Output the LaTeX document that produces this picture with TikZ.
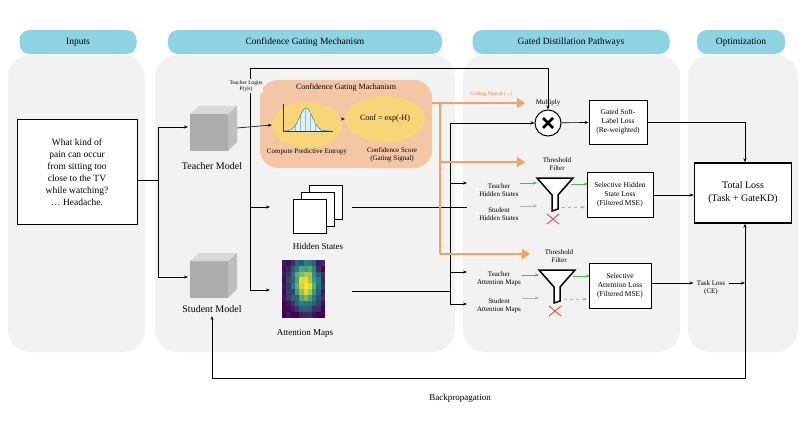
\documentclass[tikz,border=0pt]{standalone}
\usepackage{fontspec}
\setmainfont{Liberation Serif}
\usepackage{tikz}
\usetikzlibrary{arrows.meta}
\usetikzlibrary{shapes.geometric}
\usetikzlibrary{positioning}
\definecolor{panelgray}{HTML}{F2F2F2}
\definecolor{headcyan}{HTML}{8DD3E3}
\definecolor{gateorange}{HTML}{F4A261}
\definecolor{boxpeach}{HTML}{F5C6A5}
\definecolor{ellyellow}{HTML}{F9D57A}
\definecolor{vpurple}{HTML}{440154}
\definecolor{vteal}{HTML}{21918C}
\definecolor{vyellow}{HTML}{FDE725}
\tikzstyle{arrow} = [semithick,-{Stealth[length=4pt]}]
\tikzstyle{line} = [semithick]
\tikzstyle{panel} = [fill=panelgray, rounded corners=22pt]
\tikzstyle{head} = [fill=headcyan, rounded corners=10pt, minimum height=24pt, font=\fontsize{9.5}{11}\selectfont]
\tikzstyle{lossbox} = [draw=black, semithick, fill=white, align=center, font=\fontsize{7.5}{9}\selectfont]
\tikzstyle{lbl} = [align=center, font=\fontsize{7}{8}\selectfont]
\tikzstyle{gate} = [gateorange, line width=2.5pt, -{Triangle[length=8pt,width=10pt]}]

\begin{document}
\begin{tikzpicture}[x=1pt, y=-1pt]
		\useasboundingbox (0,0) rectangle (808,425);
		% panels and headers
		\fill [panel] (8,55) rectangle (145,352);
		\fill [panel] (155,55) rectangle (455,352);
		\fill [panel] (463,55) rectangle (680,352);
		\fill [panel] (688,55) rectangle (798,352);
		\node (hin) [head, minimum width=117pt] at (78,42) {Inputs};
		\node (hcg) [head, minimum width=274pt] at (305,42) {Confidence Gating Mechanism};
		\node (hgd) [head, minimum width=197pt] at (571,42) {Gated Distillation Pathways};
		\node (hop) [head, minimum width=88pt] at (741,42) {Optimization};
		% input
		\node (input) [draw=black, semithick, fill=white, minimum width=120pt, minimum height=105pt, align=center, font=\fontsize{9.5}{12}\selectfont] at (77,172) {What kind of\\pain can occur\\from sitting too\\close to the TV\\while watching?\\\dots\ Headache.};
		% cubes
		\foreach \nm/\cy in {teacher/130, student/277} {
			\fill [gray!65] (190,\cy-16) rectangle (228,\cy+21);
			\fill [gray!30] (190,\cy-16) -- (199,\cy-24) -- (237,\cy-24) -- (228,\cy-16) -- cycle;
			\fill [gray!50] (228,\cy-16) -- (237,\cy-24) -- (237,\cy+12) -- (228,\cy+21) -- cycle;
			\coordinate (\nm) at (212,\cy);
		}
		\node (tname) [font=\fontsize{10}{11}\selectfont] at (212,166) {Teacher Model};
		\node (sname) [font=\fontsize{10}{11}\selectfont] at (212,309) {Student Model};
		\coordinate (split) at (158,180);
		\draw [line] (input.east |- split) -- (split);
		\draw [arrow] (split) |- (188,127);
		\draw [arrow] (split) |- (188,277);
		% confidence gating box
		\fill [boxpeach, rounded corners=18pt] (260,80) rectangle (432,168);
		\node (cgtitle) [font=\fontsize{8}{9}\selectfont] at (346,88) {Confidence Gating Machanism};
		\node (entropy) [ellipse, fill=ellyellow, minimum width=70pt, minimum height=46pt, inner sep=0pt] at (307,125) {};
		\node (conf) [ellipse, fill=ellyellow, minimum width=70pt, minimum height=46pt, font=\fontsize{8}{9}\selectfont] at (385,119) {Conf = exp(-H)};
		\draw [black!80] (283,104) -- (283,131) -- (333,131);
		\fill [cyan!15, domain=285:332, samples=30] plot (\x,{131-23*exp(-((\x-306)/9)^2)}) -- (332,131) -- (285,131) -- cycle;
		\draw [teal, domain=285:332, samples=40] plot (\x,{131-23*exp(-((\x-306)/9)^2)});
		\foreach \vx in {295,300,...,320} \draw [gray!60, very thin] (\vx,131) -- (\vx,{131-23*exp(-((\vx-306)/9)^2)});
		\draw [arrow] (343,119) -- (conf.west);
		\node (celbl) [lbl] at (307,152) {Compute Predictive Entropy};
		\node (cslbl) [lbl] at (392,155) {Confidence Score\\(Gating Signal)};
		% logits and branches
		\draw [arrow] (237,128) -- (entropy.west);
		\draw [line] (250,68) -- (250,290);
		\node (logits) [lbl, fill=panelgray, inner sep=1pt, font=\fontsize{5.5}{6.5}\selectfont] at (246,86) {Teacher Logits\\P(y|s)};
		% hidden states
		\foreach \dd in {2,1,0} \draw [line, fill=white] (293+\dd*8,199-\dd*7) rectangle (326+\dd*8,233-\dd*7);
		\node (hidden) [font=\fontsize{9}{10}\selectfont] at (318,246) {Hidden States};
		\draw [arrow] (250,207) -- (270,207);
		% attention map
		\pgfmathsetseed{11}
		\foreach \i in {0,...,9} \foreach \j in {0,...,9} {
			\pgfmathsetmacro{\vv}{max(0,min(1,exp(-(((\i-5)/3)^2+((\j-3.5)/3.8)^2))*1.0+0.1*rand))}
			\pgfmathsetmacro{\pa}{\vv<0.5 ? 200*\vv : 0}
			\pgfmathsetmacro{\pb}{\vv<0.5 ? 0 : 200*(\vv-0.5)}
			\ifdim \vv pt<0.5pt
				\fill [vteal!\pa!vpurple] (282+\i*4.3,260+\j*5.8) rectangle +(4.4,5.9);
			\else
				\fill [vyellow!\pb!vteal] (282+\i*4.3,260+\j*5.8) rectangle +(4.4,5.9);
			\fi
		}
		\node (attn) [font=\fontsize{9}{10}\selectfont] at (305,333) {Attention Maps};
		\draw [arrow] (250,290) -- (270,290);
		% distribution lines
		\draw [line] (352,207) -- (467,207);
		\draw [line] (352,291) -- (450,291);
		\draw [line] (450,123) -- (450,304);
		\draw [arrow] (450,183) -- (467,183);
		\draw [arrow] (450,272) -- (467,272);
		\draw [arrow] (450,304) -- (467,304);
		% gating signal
		\draw [gateorange, line width=2.5pt] (432,103) -- (440,103) -- (440,254);
		\draw [gate] (432,103) -- (525,103);
		\draw [gate] (440,162) -- (525,162);
		\draw [gate] (440,254) -- (530,254);
		\node (gsig) [text=gateorange, font=\bfseries\fontsize{5.5}{6}\selectfont] at (491,94) {Gating Signal ($\alpha$)};
		% multiply
		\node (mult) [circle, draw=black, line width=1pt, fill=white, minimum size=26pt, inner sep=0pt] at (548,123) {};
		\draw [line width=2.5pt] ([shift={(-5,-5)}]mult.center) -- ([shift={(5,5)}]mult.center);
		\draw [line width=2.5pt] ([shift={(-5,5)}]mult.center) -- ([shift={(5,-5)}]mult.center);
		\node (multl) [lbl] at (548,103) {Multiply};
		\draw [arrow] (450,123) -- (mult.west);
		\draw [arrow] (250,68) -| (mult.north);
		\node (soft) [lossbox, minimum width=58pt, minimum height=44pt] at (618,122) {Gated Soft-\\Label Loss\\(Re-weighted)};
		\draw [arrow] (mult) -- (soft);
		% filters
		\foreach \nm/\fx/\fy in {fh/555/178, fa/557/270} {
			\draw [line width=1.5pt, fill=white] (\fx-18,\fy) -- (\fx+18,\fy) -- (\fx+3,\fy+17) -- (\fx+3,\fy+31) -- (\fx-3,\fy+33) -- (\fx-3,\fy+17) -- cycle;
			\node (\nm l) [lbl] at (\fx+2,\fy-14) {Threshold\\Filter};
			\draw [red!80, thick] (\fx-8,\fy+36) -- (\fx+4,\fy+46) (\fx-8,\fy+46) -- (\fx+4,\fy+36);
			\draw [arrow, green!60!black!70, thin] (\fx-35,\fy+5) -- (\fx-18,\fy+5);
			\draw [arrow, green!60!black!70, thin] (\fx+16,\fy+6) -- (\fx+33,\fy+6);
			\draw [arrow, gray!60, thin] (\fx-35,\fy+28) -- (\fx-18,\fy+28);
			\draw [arrow, gray!60, thin, dashed] (\fx+7,\fy+29) -- (\fx+30,\fy+29);
		}
		\node (thl) [lbl] at (499,190) {Teacher\\Hidden States};
		\node (shl) [lbl] at (499,214) {Student\\Hidden States};
		\node (tal) [lbl] at (499,279) {Teacher\\Attention Maps};
		\node (sal) [lbl] at (499,306) {Student\\Attention Maps};
		\node (hsl) [lossbox, minimum width=66pt, minimum height=45pt] at (620,195) {Selective Hidden\\State Loss\\(Filtered MSE)};
		\node (atl) [lossbox, minimum width=62pt, minimum height=45pt] at (620,286) {Selective\\Attention Loss\\(Filtered MSE)};
		% optimization
		\node (total) [draw=black, line width=1.5pt, fill=white, minimum width=97pt, minimum height=60pt, align=center, font=\fontsize{10}{13}\selectfont] at (743,193) {Total Loss\\(Task + GateKD)};
		\draw [arrow] (soft.east) -| ([xshift=2pt]total.north);
		\draw [arrow] (hsl.east) -- (total.west |- hsl.east);
		\node (task) [lbl] at (711,288) {Task Loss\\(CE)};
		\coordinate (jn) at (745,283);
		\coordinate (jl) at (651,283);
		\draw [arrow] (jl) -- (task.west |- jl);
		\draw [arrow] (task.east |- jn) -- (jn);
		\coordinate (bpr) at (745,378);
		\coordinate (bpl) at (212,378);
		\draw [arrow] (bpl) -- (bpr) -- ([xshift=2pt]total.south);
		\draw [arrow] (bpl) -- (sname.south);
		\node (bp) [font=\fontsize{9}{10}\selectfont] at (460,398) {Backpropagation};
\end{tikzpicture}
\end{document}
